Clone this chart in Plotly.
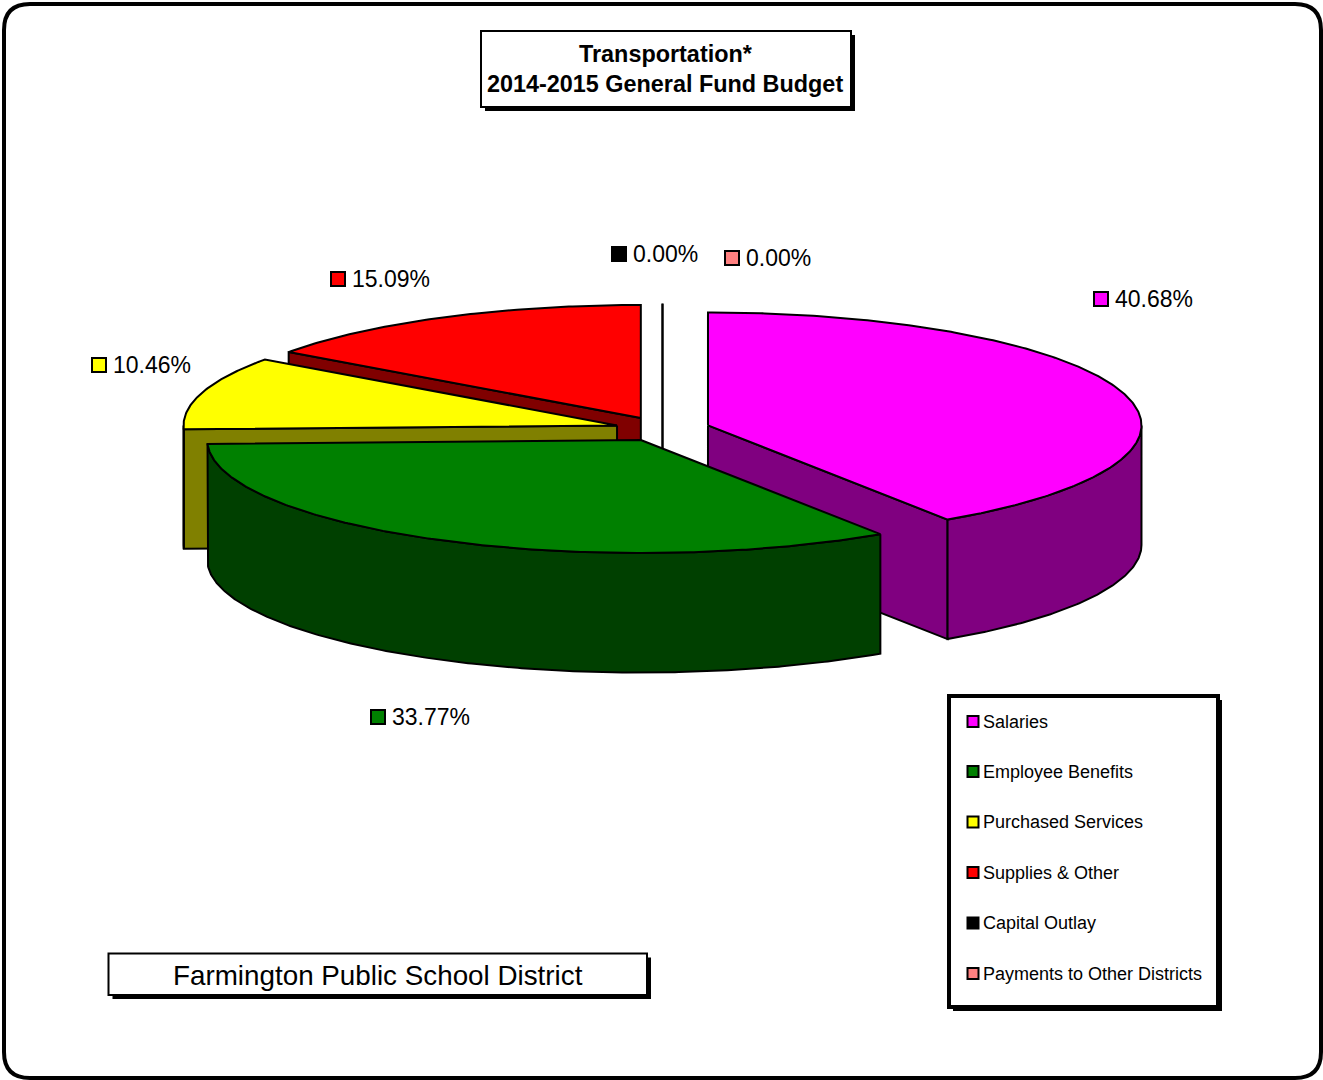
import math
import plotly.graph_objects as go

# Budget shares, in percent
categories = ["Salaries", "Employee Benefits", "Purchased Services",
              "Supplies & Other", "Capital Outlay", "Payments to Other Districts"]
shares = [40.68, 33.77, 10.46, 15.09, 0.00, 0.00]
top_colors = ["#ff00ff", "#008000", "#ffff00", "#ff0000", "#000000", "#ff8080"]
wall_colors = ["#800080", "#004000", "#808000", "#800000", "#000000", "#804040"]

title_lines = ["Transportation*", "2014-2015 General Fund Budget"]
footer_text = "Farmington Public School District"

# Tilted pie geometry, in canvas pixels
CX, CY = 662.5, 429.0
RX, RY = 433.5, 113.0
DEPTH = 119.5
EXPLODE = 47.5
OUTLINE = 2

# Anchor of each percentage label (swatch centre)
label_anchor = [(1101, 299), (378, 717), (99, 365), (338, 279), (619, 254), (732, 258)]

fig = go.Figure()


def rim(cx, cy, deg):
    t = math.radians(deg)
    return cx + RX * math.sin(t), cy - RY * math.cos(t)


def arc(cx, cy, a0, a1, drop=0.0):
    n = max(2, int(abs(a1 - a0) * 2))
    pts = [rim(cx, cy, a0 + (a1 - a0) * i / n) for i in range(n + 1)]
    return [(x, y + drop) for x, y in pts]


def poly(points, fill):
    xs = [p[0] for p in points]
    ys = [p[1] for p in points]
    fig.add_trace(go.Scatter(
        x=xs + xs[:1], y=ys + ys[:1], mode="lines", fill="toself", fillcolor=fill,
        line=dict(color="#000000", width=OUTLINE), hoverinfo="skip", showlegend=False))


def radial_face(cx, cy, deg, fill):
    x, y = rim(cx, cy, deg)
    poly([(cx, cy), (x, y), (x, y + DEPTH), (cx, cy + DEPTH)], fill)


def draw_slice(a0, a1, top, wall):
    mid = math.radians((a0 + a1) / 2)
    cx = CX + EXPLODE * math.sin(mid)
    cy = CY - EXPLODE * math.cos(mid) * RY / RX

    if a1 - a0 == 0:
        # An empty slice shows up as a single radial stroke
        x, y = rim(cx, cy, a0)
        fig.add_trace(go.Scatter(
            x=[x, cx, cx], y=[y, cy, cy + DEPTH], mode="lines",
            line=dict(color="#000000", width=OUTLINE), hoverinfo="skip", showlegend=False))
        return

    # Cut faces that turn toward the viewer
    if math.sin(math.radians(a0)) < -1e-9:
        radial_face(cx, cy, a0, wall)
    if math.sin(math.radians(a1)) > 1e-9:
        radial_face(cx, cy, a1, wall)

    # Outer wall on the front half of the rim
    w0, w1 = max(a0, 90.0), min(a1, 270.0)
    if w1 > w0:
        poly(arc(cx, cy, w0, w1) + arc(cx, cy, w1, w0, DEPTH), wall)

    poly([(cx, cy)] + arc(cx, cy, a0, a1), top)


# Slices start at twelve o'clock and run clockwise
spans = []
running = 0.0
for share in shares:
    start = running
    running += share * 3.6
    spans.append((start, running))

# Paint from the back of the tilted pie to the front
def apex_y(i):
    m = math.radians(sum(spans[i]) / 2)
    return CY - EXPLODE * math.cos(m) * RY / RX


for i in sorted(range(len(shares)), key=apex_y):
    draw_slice(spans[i][0], spans[i][1], top_colors[i], wall_colors[i])

annotations = []


def text(x, y, s, size, anchor="left", bold=False):
    annotations.append(dict(
        x=x, y=y, xref="x", yref="y", text=f"<b>{s}</b>" if bold else s,
        showarrow=False, xanchor=anchor, yanchor="middle",
        font=dict(family="Liberation Sans", size=size, color="#000000")))


def swatches(xs, ys, colors, size):
    fig.add_trace(go.Scatter(
        x=xs, y=ys, mode="markers", hoverinfo="skip", showlegend=False,
        marker=dict(symbol="square", size=size, color=colors,
                    line=dict(color="#000000", width=2))))


# Percentage labels
swatches([p[0] for p in label_anchor], [p[1] for p in label_anchor], top_colors, 14)
for (x, y), share in zip(label_anchor, shares):
    text(x + 11.5, y, f"{share:.2f}%", 23)

# Legend entries
legend_y = [721.5, 771.5, 822, 872.5, 923, 973.5]
swatches([973] * len(categories), legend_y, top_colors, 11)
for y, name in zip(legend_y, categories):
    text(981, y, name, 18)

# Title and footer text
text(666, 54, title_lines[0], 23.4, "center", True)
text(665, 84, title_lines[1], 23.4, "center", True)
text(378, 975.5, footer_text, 27.8, "center")


def box(x0, y0, x1, y1, shadow, width):
    return [
        dict(type="rect", x0=x0 + shadow, y0=y0 + shadow, x1=x1 + shadow, y1=y1 + shadow,
             fillcolor="#000000", line=dict(width=0), layer="below"),
        dict(type="rect", x0=x0, y0=y0, x1=x1, y1=y1,
             fillcolor="#ffffff", line=dict(color="#000000", width=width), layer="below"),
    ]


L, T, R, B, rad = 4, 4, 1321, 1078, 26
frame = (f"M {L + rad} {T} L {R - rad} {T} Q {R} {T} {R} {T + rad} "
         f"L {R} {B - rad} Q {R} {B} {R - rad} {B} "
         f"L {L + rad} {B} Q {L} {B} {L} {B - rad} "
         f"L {L} {T + rad} Q {L} {T} {L + rad} {T} Z")

shapes = [dict(type="path", path=frame, fillcolor="#ffffff",
               line=dict(color="#000000", width=4), layer="below")]
shapes += box(481, 31, 851, 107, 4, 2)
shapes += box(108.5, 953.5, 647, 995, 4, 2)
shapes += box(949, 696, 1218, 1007, 4, 4)

fig.update_layout(
    width=1323, height=1080, autosize=False,
    margin=dict(l=0, r=0, t=0, b=0, pad=0),
    paper_bgcolor="#ffffff", plot_bgcolor="#ffffff",
    xaxis=dict(range=[0, 1323], visible=False, fixedrange=True),
    yaxis=dict(range=[1080, 0], visible=False, fixedrange=True),
    shapes=shapes, annotations=annotations, showlegend=False,
)

fig.write_html("out.html", config={"displayModeBar": False})
